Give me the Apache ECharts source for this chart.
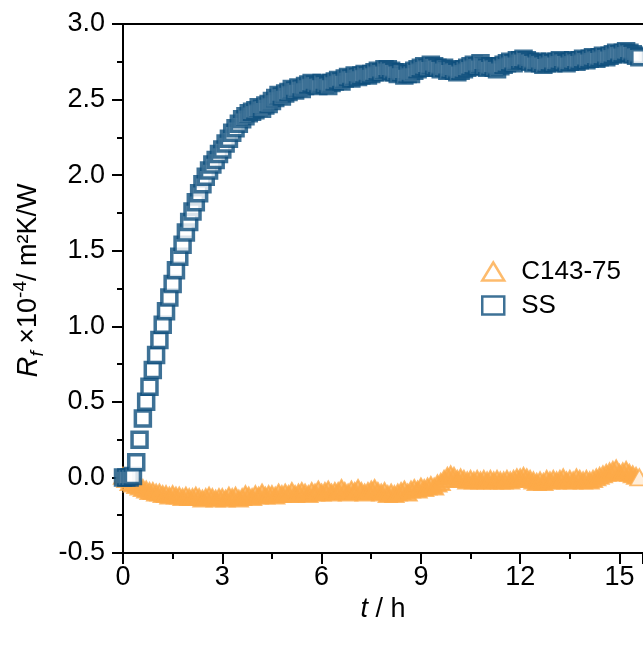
<!DOCTYPE html>
<html>
<head>
<meta charset="utf-8">
<script src="https://cdn.jsdelivr.net/npm/echarts@6/dist/echarts.min.js"></script>
<style>
html,body{margin:0;padding:0;background:#fff;}
#chart{width:643px;height:645px;}
</style>
</head>
<body>
<div id="chart"></div>
<script>
// Sampling clock (hours between logged points)
const SAMPLE_STEP_H = 0.1;

// Series names (legend order)
const seriesNames = ['C143-75', 'SS'];

// Fouling resistance Rf (x10^-4 m2K/W), one value per sample, t = 0.0 ... 15.6 h
const rfC143 = [
  0.01,-0.01,-0.03,-0.04,-0.05,-0.06,-0.07,-0.08,-0.09,-0.09,
 -0.10,-0.10,-0.11,-0.11,-0.12,-0.11,-0.12,-0.12,-0.13,-0.12,
 -0.13,-0.13,-0.12,-0.13,-0.14,-0.13,-0.12,-0.13,-0.14,-0.13,
 -0.13,-0.14,-0.12,-0.13,-0.12,-0.14,-0.13,-0.11,-0.12,-0.13,
 -0.11,-0.12,-0.10,-0.12,-0.11,-0.11,-0.12,-0.10,-0.11,-0.10,
 -0.11,-0.09,-0.11,-0.10,-0.09,-0.10,-0.11,-0.09,-0.10,-0.08,
 -0.10,-0.09,-0.08,-0.10,-0.09,-0.09,-0.07,-0.09,-0.10,-0.08,
 -0.09,-0.07,-0.09,-0.10,-0.09,-0.08,-0.07,-0.09,-0.10,-0.09,
 -0.11,-0.10,-0.11,-0.10,-0.09,-0.08,-0.10,-0.08,-0.07,-0.08,
 -0.06,-0.07,-0.06,-0.05,-0.06,-0.04,-0.03,-0.01, 0.01, 0.02,
  0.01,-0.01, 0.00,-0.01,-0.02,-0.01,-0.02,-0.01,-0.02,-0.01,
 -0.02,-0.01,-0.02,-0.01,-0.02,-0.02,-0.01,-0.02,-0.01, 0.00,
  0.00, 0.01, 0.00,-0.01,-0.02,-0.03,-0.02,-0.03,-0.01,-0.02,
 -0.01,-0.02,-0.01, 0.00,-0.02,-0.01,-0.02, 0.00,-0.01,-0.02,
 -0.01,-0.02,-0.01, 0.00, 0.01, 0.02, 0.03, 0.04, 0.05, 0.06,
  0.03, 0.04, 0.05, 0.03, 0.02, 0.01, 0.00
];

const rfSS = [
  0.00, 0.00, 0.00, 0.01, 0.10, 0.25, 0.39, 0.50, 0.60, 0.71,
  0.81, 0.91, 1.01, 1.10, 1.19, 1.28, 1.37, 1.46, 1.54, 1.62,
  1.69, 1.76, 1.82, 1.88, 1.94, 1.99, 2.03, 2.07, 2.10, 2.14,
  2.17, 2.21, 2.24, 2.28, 2.31, 2.34, 2.37, 2.39, 2.41, 2.42,
  2.43, 2.45, 2.44, 2.46, 2.47, 2.49, 2.51, 2.53, 2.52, 2.54,
  2.55, 2.57, 2.56, 2.58, 2.57, 2.59, 2.60, 2.61, 2.60, 2.59,
  2.61, 2.60, 2.59, 2.61, 2.62, 2.63, 2.62, 2.64, 2.65, 2.64,
  2.66, 2.65, 2.66, 2.67, 2.66, 2.67, 2.68, 2.69, 2.68, 2.70,
  2.70, 2.69, 2.68, 2.67, 2.68, 2.66, 2.67, 2.67, 2.69, 2.70,
  2.71, 2.72, 2.71, 2.73, 2.72, 2.71, 2.70, 2.71, 2.69, 2.70,
  2.69, 2.68, 2.69, 2.70, 2.71, 2.72, 2.73, 2.72, 2.74, 2.72,
  2.71, 2.72, 2.71, 2.70, 2.72, 2.73, 2.74, 2.75, 2.74, 2.76,
  2.76, 2.77, 2.76, 2.75, 2.74, 2.75, 2.74, 2.73, 2.74, 2.75,
  2.74, 2.75, 2.76, 2.75, 2.74, 2.75, 2.76, 2.75, 2.76, 2.77,
  2.76, 2.77, 2.78, 2.77, 2.78, 2.79, 2.78, 2.79, 2.80, 2.81,
  2.80, 2.81, 2.82, 2.81, 2.80, 2.79, 2.78
];

// Axis ticks
const xTicks = [0, 3, 6, 9, 12, 15];
const yTicks = [-0.5, 0.0, 0.5, 1.0, 1.5, 2.0, 2.5, 3.0];

const ORANGE = '#FDAA48';
const BLUE = '#0C4D7C';
const FONT = 'Arial, "Liberation Sans", sans-serif';
const FS = 27;

function toPoints(vals, lastOpen) {
  return vals.map((v, i) => {
    const p = [+(i * SAMPLE_STEP_H).toFixed(2), v];
    if (lastOpen && i === vals.length - 1) {
      return {value: p, itemStyle: {color: '#fff', borderColor: ORANGE, borderWidth: 2}};
    }
    return p;
  });
}

const chart = echarts.init(document.getElementById('chart'), null, {renderer: 'canvas'});
chart.setOption({
  backgroundColor: '#fff',
  animation: false,
  grid: {left: 123, right: 0, top: 24, bottom: 92, containLabel: false},
  legend: {
    orient: 'vertical',
    left: 476,
    top: 253,
    itemWidth: 22,
    itemHeight: 18,
    itemGap: 7,
    textStyle: {fontFamily: FONT, fontSize: 26, lineHeight: 27, color: '#000', padding: [0, 0, 0, 12]},
    data: [
      {name: seriesNames[0], icon: 'triangle', itemStyle: {color: 'rgba(0,0,0,0)', borderColor: ORANGE, borderWidth: 2.5}},
      {name: seriesNames[1], icon: 'rect', itemStyle: {color: 'rgba(0,0,0,0)', borderColor: BLUE, borderWidth: 2.5}}
    ]
  },
  xAxis: [{
    type: 'value',
    min: 0,
    max: 15.71,
    interval: 3,
    position: 'bottom',
    name: '{it|t} {n|/ h}',
    nameLocation: 'middle',
    nameGap: 41,
    nameTextStyle: {
      fontFamily: FONT, fontSize: FS, color: '#000',
      rich: {it: {fontFamily: FONT, fontSize: FS, fontStyle: 'italic', color: '#000'},
             n: {fontFamily: FONT, fontSize: FS, color: '#000'}}
    },
    axisLine: {show: true, onZero: false, lineStyle: {color: '#000', width: 2}},
    axisTick: {show: true, length: 11, lineStyle: {color: '#000', width: 2}},
    minorTick: {show: true, splitNumber: 2, length: 6, lineStyle: {color: '#000', width: 2}},
    splitLine: {show: false},
    axisLabel: {
      fontFamily: FONT, fontSize: FS, color: '#000', margin: 11,
      showMaxLabel: false,
      formatter: v => (xTicks.indexOf(Math.round(v * 100) / 100) >= 0 ? String(v) : '')
    }
  }, {
    type: 'value',
    min: 0,
    max: 15.71,
    position: 'top',
    axisLine: {show: true, onZero: false, lineStyle: {color: '#000', width: 2}},
    axisTick: {show: false},
    axisLabel: {show: false},
    splitLine: {show: false}
  }],
  yAxis: {
    type: 'value',
    min: yTicks[0],
    max: yTicks[yTicks.length - 1],
    interval: 0.5,
    name: '{it|R}{sub|f} {n|\u00d710}{sup|-4}{n|/ m\u00b2K/W}',
    nameLocation: 'middle',
    nameGap: 76,
    nameRotate: 90,
    nameTextStyle: {
      fontFamily: FONT, fontSize: FS, color: '#000', padding: [0, 0, 0, 16],
      rich: {
        it: {fontFamily: FONT, fontSize: 29, fontStyle: 'italic', color: '#000', lineHeight: 36, verticalAlign: 'middle'},
        sub: {fontFamily: FONT, fontSize: 19, fontStyle: 'italic', color: '#000', verticalAlign: 'bottom', lineHeight: 36},
        n: {fontFamily: FONT, fontSize: 27, color: '#000', lineHeight: 36, verticalAlign: 'middle'},
        sup: {fontFamily: FONT, fontSize: 19, color: '#000', verticalAlign: 'top', lineHeight: 36}
      }
    },
    axisLine: {show: true, onZero: false, lineStyle: {color: '#000', width: 2}},
    axisTick: {show: true, length: 11, lineStyle: {color: '#000', width: 2}},
    minorTick: {show: true, splitNumber: 2, length: 6, lineStyle: {color: '#000', width: 2}},
    splitLine: {show: false},
    axisLabel: {
      fontFamily: FONT, fontSize: FS, color: '#000', margin: 18,
      formatter: v => v.toFixed(1)
    }
  },
  series: [{
    name: seriesNames[0],
    type: 'scatter',
    symbol: 'triangle',
    symbolSize: [18, 16],
    itemStyle: {color: ORANGE, borderColor: ORANGE, borderWidth: 2},
    data: toPoints(rfC143, true),
    clip: false,
    z: 2
  }, {
    name: seriesNames[1],
    type: 'scatter',
    symbol: 'rect',
    symbolSize: 15,
    itemStyle: {color: '#fff', borderColor: BLUE, borderWidth: 3.5},
    data: toPoints(rfSS, false),
    clip: false,
    z: 3
  }]
});
</script>
</body>
</html>
